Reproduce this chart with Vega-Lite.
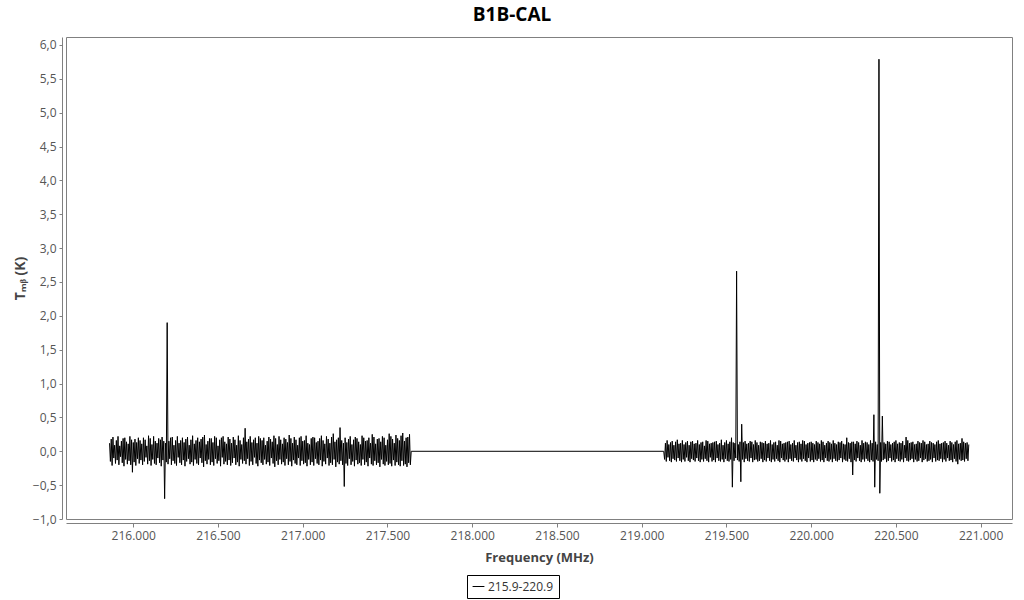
{
  "$schema": "https://vega.github.io/schema/vega-lite/v6.json",
  "width": 946,
  "height": 482,
  "autosize": "none",
  "padding": {"left": 66, "top": 37, "right": 12, "bottom": 81},
  "background": "white",
  "title": {"text": "B1B-CAL", "font": "Open Sans", "fontSize": 19, "fontWeight": "bold", "color": "#000000", "anchor": "middle", "dx": -27, "dy": 19, "offset": 12, "baseline": "bottom"},
  "data": {"values": [
    {"f":215.86,"t":0.12},{"f":215.865,"t":-0.15},{"f":215.87,"t":0.18},{"f":215.875,"t":-0.21},{"f":215.88,"t":0.21},{"f":215.885,"t":-0.1},{"f":215.89,"t":0.09},{"f":215.895,"t":-0.18},{"f":215.9,"t":0.16},{"f":215.905,"t":-0.13},
    {"f":215.91,"t":0.22},{"f":215.915,"t":-0.2},{"f":215.92,"t":0.08},{"f":215.925,"t":-0.08},{"f":215.93,"t":0.15},{"f":215.935,"t":-0.17},{"f":215.94,"t":0.19},{"f":215.945,"t":-0.22},{"f":215.95,"t":0.2},{"f":215.955,"t":-0.12},
    {"f":215.96,"t":0.14},{"f":215.965,"t":-0.19},{"f":215.97,"t":0.11},{"f":215.975,"t":-0.14},{"f":215.98,"t":0.22},{"f":215.985,"t":-0.2},{"f":215.99,"t":0.17},{"f":215.995,"t":-0.31},{"f":216.0,"t":0.13},{"f":216.005,"t":-0.16},
    {"f":216.01,"t":0.18},{"f":216.015,"t":-0.21},{"f":216.02,"t":0.13},{"f":216.025,"t":-0.11},{"f":216.03,"t":0.2},{"f":216.035,"t":-0.18},{"f":216.04,"t":0.16},{"f":216.045,"t":-0.13},{"f":216.05,"t":0.11},{"f":216.055,"t":-0.2},
    {"f":216.06,"t":0.2},{"f":216.065,"t":-0.15},{"f":216.07,"t":0.17},{"f":216.075,"t":-0.09},{"f":216.08,"t":0.08},{"f":216.085,"t":-0.19},{"f":216.09,"t":0.23},{"f":216.095,"t":-0.14},{"f":216.1,"t":0.19},{"f":216.105,"t":-0.21},
    {"f":216.11,"t":0.1},{"f":216.115,"t":-0.12},{"f":216.12,"t":0.22},{"f":216.125,"t":-0.18},{"f":216.13,"t":0.15},{"f":216.135,"t":-0.2},{"f":216.14,"t":0.12},{"f":216.145,"t":-0.1},{"f":216.15,"t":0.19},{"f":216.155,"t":-0.17},
    {"f":216.16,"t":0.17},{"f":216.165,"t":-0.22},{"f":216.17,"t":0.21},{"f":216.175,"t":-0.13},{"f":216.18,"t":0.15},{"f":216.185,"t":-0.7},{"f":216.19,"t":0.12},{"f":216.195,"t":-0.16},{"f":216.2,"t":1.9},{"f":216.205,"t":-0.19},
    {"f":216.21,"t":0.15},{"f":216.215,"t":-0.11},{"f":216.22,"t":0.2},{"f":216.225,"t":-0.2},{"f":216.23,"t":0.21},{"f":216.235,"t":-0.14},{"f":216.24,"t":0.09},{"f":216.245,"t":-0.18},{"f":216.25,"t":0.16},{"f":216.255,"t":-0.21},
    {"f":216.26,"t":0.22},{"f":216.265,"t":-0.09},{"f":216.27,"t":0.12},{"f":216.275,"t":-0.17},{"f":216.28,"t":0.16},{"f":216.285,"t":-0.2},{"f":216.29,"t":0.2},{"f":216.295,"t":-0.13},{"f":216.3,"t":0.13},{"f":216.305,"t":-0.22},
    {"f":216.31,"t":0.18},{"f":216.315,"t":-0.15},{"f":216.32,"t":0.21},{"f":216.325,"t":-0.11},{"f":216.33,"t":0.09},{"f":216.335,"t":-0.19},{"f":216.34,"t":0.17},{"f":216.345,"t":-0.16},{"f":216.35,"t":0.23},{"f":216.355,"t":-0.21},
    {"f":216.36,"t":0.11},{"f":216.365,"t":-0.12},{"f":216.37,"t":0.16},{"f":216.375,"t":-0.18},{"f":216.38,"t":0.2},{"f":216.385,"t":-0.2},{"f":216.39,"t":0.14},{"f":216.395,"t":-0.1},{"f":216.4,"t":0.18},{"f":216.405,"t":-0.17},
    {"f":216.41,"t":0.21},{"f":216.415,"t":-0.23},{"f":216.42,"t":0.24},{"f":216.425,"t":-0.14},{"f":216.43,"t":0.1},{"f":216.435,"t":-0.19},{"f":216.44,"t":0.15},{"f":216.445,"t":-0.12},{"f":216.45,"t":0.19},{"f":216.455,"t":-0.2},
    {"f":216.46,"t":0.19},{"f":216.465,"t":-0.16},{"f":216.47,"t":0.13},{"f":216.475,"t":-0.21},{"f":216.48,"t":0.22},{"f":216.485,"t":-0.11},{"f":216.49,"t":0.2},{"f":216.495,"t":-0.18},{"f":216.5,"t":0.08},{"f":216.505,"t":-0.14},
    {"f":216.51,"t":0.17},{"f":216.515,"t":-0.22},{"f":216.52,"t":0.2},{"f":216.525,"t":-0.09},{"f":216.53,"t":0.22},{"f":216.535,"t":-0.19},{"f":216.54,"t":0.14},{"f":216.545,"t":-0.15},{"f":216.55,"t":0.11},{"f":216.555,"t":-0.2},
    {"f":216.56,"t":0.21},{"f":216.565,"t":-0.13},{"f":216.57,"t":0.18},{"f":216.575,"t":-0.21},{"f":216.58,"t":0.12},{"f":216.585,"t":-0.17},{"f":216.59,"t":0.21},{"f":216.595,"t":-0.1},{"f":216.6,"t":0.17},{"f":216.605,"t":-0.2},
    {"f":216.61,"t":0.09},{"f":216.615,"t":-0.16},{"f":216.62,"t":0.23},{"f":216.625,"t":-0.22},{"f":216.63,"t":0.16},{"f":216.635,"t":-0.12},{"f":216.64,"t":0.1},{"f":216.645,"t":-0.18},{"f":216.65,"t":0.2},{"f":216.655,"t":-0.14},
    {"f":216.66,"t":0.34},{"f":216.665,"t":-0.19},{"f":216.67,"t":0.14},{"f":216.675,"t":-0.11},{"f":216.68,"t":0.18},{"f":216.685,"t":-0.21},{"f":216.69,"t":0.22},{"f":216.695,"t":-0.15},{"f":216.7,"t":0.13},{"f":216.705,"t":-0.2},
    {"f":216.71,"t":0.17},{"f":216.715,"t":-0.09},{"f":216.72,"t":0.2},{"f":216.725,"t":-0.18},{"f":216.73,"t":0.12},{"f":216.735,"t":-0.22},{"f":216.74,"t":0.22},{"f":216.745,"t":-0.13},{"f":216.75,"t":0.19},{"f":216.755,"t":-0.17},
    {"f":216.76,"t":0.16},{"f":216.765,"t":-0.2},{"f":216.77,"t":0.2},{"f":216.775,"t":-0.12},{"f":216.78,"t":0.09},{"f":216.785,"t":-0.19},{"f":216.79,"t":0.15},{"f":216.795,"t":-0.16},{"f":216.8,"t":0.21},{"f":216.805,"t":-0.21},
    {"f":216.81,"t":0.18},{"f":216.815,"t":-0.1},{"f":216.82,"t":0.14},{"f":216.825,"t":-0.18},{"f":216.83,"t":0.23},{"f":216.835,"t":-0.23},{"f":216.84,"t":0.19},{"f":216.845,"t":-0.14},{"f":216.85,"t":0.1},{"f":216.855,"t":-0.2},
    {"f":216.86,"t":0.22},{"f":216.865,"t":-0.12},{"f":216.87,"t":0.17},{"f":216.875,"t":-0.19},{"f":216.88,"t":0.11},{"f":216.885,"t":-0.16},{"f":216.89,"t":0.2},{"f":216.895,"t":-0.21},{"f":216.9,"t":0.18},{"f":216.905,"t":-0.11},
    {"f":216.91,"t":0.13},{"f":216.915,"t":-0.2},{"f":216.92,"t":0.24},{"f":216.925,"t":-0.15},{"f":216.93,"t":0.19},{"f":216.935,"t":-0.22},{"f":216.94,"t":0.12},{"f":216.945,"t":-0.13},{"f":216.95,"t":0.21},{"f":216.955,"t":-0.18},
    {"f":216.96,"t":0.17},{"f":216.965,"t":-0.2},{"f":216.97,"t":0.09},{"f":216.975,"t":-0.1},{"f":216.98,"t":0.2},{"f":216.985,"t":-0.21},{"f":216.99,"t":0.22},{"f":216.995,"t":-0.14},{"f":217.0,"t":0.15},{"f":217.005,"t":-0.19},
    {"f":217.01,"t":0.16},{"f":217.015,"t":-0.17},{"f":217.02,"t":0.23},{"f":217.025,"t":-0.22},{"f":217.03,"t":0.12},{"f":217.035,"t":-0.12},{"f":217.04,"t":0.1},{"f":217.045,"t":-0.2},{"f":217.05,"t":0.19},{"f":217.055,"t":-0.16},
    {"f":217.06,"t":0.21},{"f":217.065,"t":-0.21},{"f":217.07,"t":0.2},{"f":217.075,"t":-0.11},{"f":217.08,"t":0.13},{"f":217.085,"t":-0.18},{"f":217.09,"t":0.15},{"f":217.095,"t":-0.2},{"f":217.1,"t":0.19},{"f":217.105,"t":-0.13},
    {"f":217.11,"t":0.23},{"f":217.115,"t":-0.22},{"f":217.12,"t":0.16},{"f":217.125,"t":-0.15},{"f":217.13,"t":0.11},{"f":217.135,"t":-0.19},{"f":217.14,"t":0.22},{"f":217.145,"t":-0.1},{"f":217.15,"t":0.18},{"f":217.155,"t":-0.21},
    {"f":217.16,"t":0.12},{"f":217.165,"t":-0.17},{"f":217.17,"t":0.21},{"f":217.175,"t":-0.2},{"f":217.18,"t":0.26},{"f":217.185,"t":-0.12},{"f":217.19,"t":0.14},{"f":217.195,"t":-0.23},{"f":217.2,"t":0.17},{"f":217.205,"t":-0.16},
    {"f":217.21,"t":0.2},{"f":217.215,"t":-0.19},{"f":217.22,"t":0.35},{"f":217.225,"t":-0.14},{"f":217.23,"t":0.16},{"f":217.235,"t":-0.2},{"f":217.24,"t":0.12},{"f":217.245,"t":-0.52},{"f":217.25,"t":0.2},{"f":217.255,"t":-0.18},
    {"f":217.26,"t":0.13},{"f":217.265,"t":-0.21},{"f":217.27,"t":0.18},{"f":217.275,"t":-0.11},{"f":217.28,"t":0.22},{"f":217.285,"t":-0.2},{"f":217.29,"t":0.1},{"f":217.295,"t":-0.15},{"f":217.3,"t":0.17},{"f":217.305,"t":-0.22},
    {"f":217.31,"t":0.21},{"f":217.315,"t":-0.13},{"f":217.32,"t":0.19},{"f":217.325,"t":-0.19},{"f":217.33,"t":0.14},{"f":217.335,"t":-0.17},{"f":217.34,"t":0.1},{"f":217.345,"t":-0.21},{"f":217.35,"t":0.23},{"f":217.355,"t":-0.12},
    {"f":217.36,"t":0.2},{"f":217.365,"t":-0.2},{"f":217.37,"t":0.15},{"f":217.375,"t":-0.16},{"f":217.38,"t":0.16},{"f":217.385,"t":-0.22},{"f":217.39,"t":0.2},{"f":217.395,"t":-0.1},{"f":217.4,"t":0.12},{"f":217.405,"t":-0.19},
    {"f":217.41,"t":0.25},{"f":217.415,"t":-0.21},{"f":217.42,"t":0.21},{"f":217.425,"t":-0.14},{"f":217.43,"t":0.11},{"f":217.435,"t":-0.2},{"f":217.44,"t":0.18},{"f":217.445,"t":-0.17},{"f":217.45,"t":0.19},{"f":217.455,"t":-0.23},
    {"f":217.46,"t":0.14},{"f":217.465,"t":-0.12},{"f":217.47,"t":0.22},{"f":217.475,"t":-0.19},{"f":217.48,"t":0.2},{"f":217.485,"t":-0.21},{"f":217.49,"t":0.09},{"f":217.495,"t":-0.15},{"f":217.5,"t":0.17},{"f":217.505,"t":-0.2},
    {"f":217.51,"t":0.26},{"f":217.515,"t":-0.18},{"f":217.52,"t":0.22},{"f":217.525,"t":-0.22},{"f":217.53,"t":0.18},{"f":217.535,"t":-0.13},{"f":217.54,"t":0.12},{"f":217.545,"t":-0.21},{"f":217.55,"t":0.24},{"f":217.555,"t":-0.16},
    {"f":217.56,"t":0.19},{"f":217.565,"t":-0.2},{"f":217.57,"t":0.16},{"f":217.575,"t":-0.22},{"f":217.58,"t":0.23},{"f":217.585,"t":-0.14},{"f":217.59,"t":0.27},{"f":217.595,"t":-0.21},{"f":217.6,"t":0.15},{"f":217.605,"t":-0.19},
    {"f":217.61,"t":0.2},{"f":217.615,"t":-0.23},{"f":217.62,"t":0.21},{"f":217.625,"t":-0.17},{"f":217.63,"t":0.25},{"f":217.635,"t":-0.2},{"f":217.64,"t":0.0},
    {"f":219.13,"t":0.0},{"f":219.135,"t":-0.12},{"f":219.14,"t":0.12},{"f":219.145,"t":-0.15},{"f":219.15,"t":0.16},{"f":219.155,"t":-0.09},{"f":219.16,"t":0.1},{"f":219.165,"t":-0.14},{"f":219.17,"t":0.13},{"f":219.175,"t":-0.16},
    {"f":219.18,"t":0.15},{"f":219.185,"t":-0.11},{"f":219.19,"t":0.09},{"f":219.195,"t":-0.13},{"f":219.2,"t":0.14},{"f":219.205,"t":-0.15},{"f":219.21,"t":0.17},{"f":219.215,"t":-0.1},{"f":219.22,"t":0.11},{"f":219.225,"t":-0.14},
    {"f":219.23,"t":0.12},{"f":219.235,"t":-0.16},{"f":219.24,"t":0.16},{"f":219.245,"t":-0.12},{"f":219.25,"t":0.1},{"f":219.255,"t":-0.15},{"f":219.26,"t":0.13},{"f":219.265,"t":-0.09},{"f":219.27,"t":0.15},{"f":219.275,"t":-0.14},
    {"f":219.28,"t":0.09},{"f":219.285,"t":-0.16},{"f":219.29,"t":0.14},{"f":219.295,"t":-0.11},{"f":219.3,"t":0.15},{"f":219.305,"t":-0.13},{"f":219.31,"t":0.11},{"f":219.315,"t":-0.15},{"f":219.32,"t":0.12},{"f":219.325,"t":-0.1},
    {"f":219.33,"t":0.16},{"f":219.335,"t":-0.14},{"f":219.34,"t":0.1},{"f":219.345,"t":-0.16},{"f":219.35,"t":0.13},{"f":219.355,"t":-0.12},{"f":219.36,"t":0.14},{"f":219.365,"t":-0.15},{"f":219.37,"t":0.08},{"f":219.375,"t":-0.11},
    {"f":219.38,"t":0.16},{"f":219.385,"t":-0.14},{"f":219.39,"t":0.15},{"f":219.395,"t":-0.16},{"f":219.4,"t":0.11},{"f":219.405,"t":-0.09},{"f":219.41,"t":0.12},{"f":219.415,"t":-0.15},{"f":219.42,"t":0.13},{"f":219.425,"t":-0.13},
    {"f":219.43,"t":0.14},{"f":219.435,"t":-0.16},{"f":219.44,"t":0.15},{"f":219.445,"t":-0.1},{"f":219.45,"t":0.1},{"f":219.455,"t":-0.14},{"f":219.46,"t":0.12},{"f":219.465,"t":-0.15},{"f":219.47,"t":0.17},{"f":219.475,"t":-0.12},
    {"f":219.48,"t":0.09},{"f":219.485,"t":-0.16},{"f":219.49,"t":0.13},{"f":219.495,"t":-0.11},{"f":219.5,"t":0.16},{"f":219.505,"t":-0.14},{"f":219.51,"t":0.11},{"f":219.515,"t":-0.15},{"f":219.52,"t":0.14},{"f":219.525,"t":-0.12},
    {"f":219.53,"t":0.2},{"f":219.535,"t":-0.53},{"f":219.54,"t":0.13},{"f":219.545,"t":-0.14},{"f":219.55,"t":0.12},{"f":219.555,"t":-0.1},{"f":219.56,"t":2.66},{"f":219.565,"t":-0.13},{"f":219.57,"t":0.1},{"f":219.575,"t":-0.15},
    {"f":219.58,"t":0.14},{"f":219.585,"t":-0.45},{"f":219.59,"t":0.4},{"f":219.595,"t":-0.12},{"f":219.6,"t":0.13},{"f":219.605,"t":-0.16},{"f":219.61,"t":0.15},{"f":219.615,"t":-0.11},{"f":219.62,"t":0.11},{"f":219.625,"t":-0.14},
    {"f":219.63,"t":0.12},{"f":219.635,"t":-0.15},{"f":219.64,"t":0.15},{"f":219.645,"t":-0.1},{"f":219.65,"t":0.14},{"f":219.655,"t":-0.16},{"f":219.66,"t":0.1},{"f":219.665,"t":-0.13},{"f":219.67,"t":0.16},{"f":219.675,"t":-0.12},
    {"f":219.68,"t":0.13},{"f":219.685,"t":-0.15},{"f":219.69,"t":0.09},{"f":219.695,"t":-0.14},{"f":219.7,"t":0.14},{"f":219.705,"t":-0.11},{"f":219.71,"t":0.13},{"f":219.715,"t":-0.16},{"f":219.72,"t":0.12},{"f":219.725,"t":-0.13},
    {"f":219.73,"t":0.15},{"f":219.735,"t":-0.15},{"f":219.74,"t":0.11},{"f":219.745,"t":-0.1},{"f":219.75,"t":0.12},{"f":219.755,"t":-0.14},{"f":219.76,"t":0.16},{"f":219.765,"t":-0.16},{"f":219.77,"t":0.1},{"f":219.775,"t":-0.12},
    {"f":219.78,"t":0.13},{"f":219.785,"t":-0.15},{"f":219.79,"t":0.14},{"f":219.795,"t":-0.11},{"f":219.8,"t":0.09},{"f":219.805,"t":-0.14},{"f":219.81,"t":0.16},{"f":219.815,"t":-0.16},{"f":219.82,"t":0.15},{"f":219.825,"t":-0.1},
    {"f":219.83,"t":0.11},{"f":219.835,"t":-0.13},{"f":219.84,"t":0.12},{"f":219.845,"t":-0.15},{"f":219.85,"t":0.13},{"f":219.855,"t":-0.12},{"f":219.86,"t":0.14},{"f":219.865,"t":-0.16},{"f":219.87,"t":0.15},{"f":219.875,"t":-0.11},
    {"f":219.88,"t":0.1},{"f":219.885,"t":-0.14},{"f":219.89,"t":0.12},{"f":219.895,"t":-0.15},{"f":219.9,"t":0.16},{"f":219.905,"t":-0.1},{"f":219.91,"t":0.09},{"f":219.915,"t":-0.13},{"f":219.92,"t":0.13},{"f":219.925,"t":-0.16},
    {"f":219.93,"t":0.14},{"f":219.935,"t":-0.12},{"f":219.94,"t":0.11},{"f":219.945,"t":-0.15},{"f":219.95,"t":0.16},{"f":219.955,"t":-0.11},{"f":219.96,"t":0.15},{"f":219.965,"t":-0.14},{"f":219.97,"t":0.1},{"f":219.975,"t":-0.16},
    {"f":219.98,"t":0.12},{"f":219.985,"t":-0.1},{"f":219.99,"t":0.13},{"f":219.995,"t":-0.15},{"f":220.0,"t":0.14},{"f":220.005,"t":-0.13},{"f":220.01,"t":0.12},{"f":220.015,"t":-0.16},{"f":220.02,"t":0.1},{"f":220.025,"t":-0.12},
    {"f":220.03,"t":0.15},{"f":220.035,"t":-0.14},{"f":220.04,"t":0.13},{"f":220.045,"t":-0.11},{"f":220.05,"t":0.11},{"f":220.055,"t":-0.15},{"f":220.06,"t":0.16},{"f":220.065,"t":-0.13},{"f":220.07,"t":0.14},{"f":220.075,"t":-0.16},
    {"f":220.08,"t":0.09},{"f":220.085,"t":-0.1},{"f":220.09,"t":0.12},{"f":220.095,"t":-0.14},{"f":220.1,"t":0.15},{"f":220.105,"t":-0.15},{"f":220.11,"t":0.13},{"f":220.115,"t":-0.12},{"f":220.12,"t":0.11},{"f":220.125,"t":-0.16},
    {"f":220.13,"t":0.16},{"f":220.135,"t":-0.11},{"f":220.14,"t":0.12},{"f":220.145,"t":-0.14},{"f":220.15,"t":0.1},{"f":220.155,"t":-0.15},{"f":220.16,"t":0.14},{"f":220.165,"t":-0.13},{"f":220.17,"t":0.13},{"f":220.175,"t":-0.1},
    {"f":220.18,"t":0.15},{"f":220.185,"t":-0.16},{"f":220.19,"t":0.11},{"f":220.195,"t":-0.12},{"f":220.2,"t":0.1},{"f":220.205,"t":-0.14},{"f":220.21,"t":0.2},{"f":220.215,"t":-0.15},{"f":220.22,"t":0.13},{"f":220.225,"t":-0.11},
    {"f":220.23,"t":0.12},{"f":220.235,"t":-0.16},{"f":220.24,"t":0.14},{"f":220.245,"t":-0.35},{"f":220.25,"t":0.14},{"f":220.255,"t":-0.13},{"f":220.26,"t":0.11},{"f":220.265,"t":-0.15},{"f":220.27,"t":0.15},{"f":220.275,"t":-0.1},
    {"f":220.28,"t":0.13},{"f":220.285,"t":-0.14},{"f":220.29,"t":0.09},{"f":220.295,"t":-0.16},{"f":220.3,"t":0.16},{"f":220.305,"t":-0.12},{"f":220.31,"t":0.12},{"f":220.315,"t":-0.15},{"f":220.32,"t":0.14},{"f":220.325,"t":-0.11},
    {"f":220.33,"t":0.13},{"f":220.335,"t":-0.14},{"f":220.34,"t":0.1},{"f":220.345,"t":-0.16},{"f":220.35,"t":0.16},{"f":220.355,"t":-0.13},{"f":220.36,"t":0.12},{"f":220.365,"t":-0.15},{"f":220.37,"t":0.54},{"f":220.375,"t":-0.53},
    {"f":220.38,"t":0.14},{"f":220.385,"t":-0.12},{"f":220.39,"t":0.1},{"f":220.395,"t":-0.14},{"f":220.4,"t":5.79},{"f":220.405,"t":-0.62},{"f":220.41,"t":0.13},{"f":220.415,"t":-0.15},{"f":220.42,"t":0.52},{"f":220.425,"t":-0.13},
    {"f":220.43,"t":0.13},{"f":220.435,"t":-0.11},{"f":220.44,"t":0.11},{"f":220.445,"t":-0.16},{"f":220.45,"t":0.15},{"f":220.455,"t":-0.14},{"f":220.46,"t":0.14},{"f":220.465,"t":-0.1},{"f":220.47,"t":0.1},{"f":220.475,"t":-0.15},
    {"f":220.48,"t":0.12},{"f":220.485,"t":-0.13},{"f":220.49,"t":0.14},{"f":220.495,"t":-0.16},{"f":220.5,"t":0.16},{"f":220.505,"t":-0.11},{"f":220.51,"t":0.11},{"f":220.515,"t":-0.14},{"f":220.52,"t":0.13},{"f":220.525,"t":-0.15},
    {"f":220.53,"t":0.12},{"f":220.535,"t":-0.12},{"f":220.54,"t":0.15},{"f":220.545,"t":-0.16},{"f":220.55,"t":0.09},{"f":220.555,"t":-0.1},{"f":220.56,"t":0.21},{"f":220.565,"t":-0.14},{"f":220.57,"t":0.16},{"f":220.575,"t":-0.15},
    {"f":220.58,"t":0.12},{"f":220.585,"t":-0.13},{"f":220.59,"t":0.13},{"f":220.595,"t":-0.11},{"f":220.6,"t":0.14},{"f":220.605,"t":-0.16},{"f":220.61,"t":0.1},{"f":220.615,"t":-0.12},{"f":220.62,"t":0.11},{"f":220.625,"t":-0.15},
    {"f":220.63,"t":0.15},{"f":220.635,"t":-0.14},{"f":220.64,"t":0.13},{"f":220.645,"t":-0.1},{"f":220.65,"t":0.12},{"f":220.655,"t":-0.16},{"f":220.66,"t":0.16},{"f":220.665,"t":-0.13},{"f":220.67,"t":0.14},{"f":220.675,"t":-0.11},
    {"f":220.68,"t":0.1},{"f":220.685,"t":-0.15},{"f":220.69,"t":0.11},{"f":220.695,"t":-0.14},{"f":220.7,"t":0.15},{"f":220.705,"t":-0.12},{"f":220.71,"t":0.13},{"f":220.715,"t":-0.16},{"f":220.72,"t":0.12},{"f":220.725,"t":-0.1},
    {"f":220.73,"t":0.1},{"f":220.735,"t":-0.15},{"f":220.74,"t":0.14},{"f":220.745,"t":-0.13},{"f":220.75,"t":0.16},{"f":220.755,"t":-0.14},{"f":220.76,"t":0.11},{"f":220.765,"t":-0.11},{"f":220.77,"t":0.12},{"f":220.775,"t":-0.16},
    {"f":220.78,"t":0.13},{"f":220.785,"t":-0.12},{"f":220.79,"t":0.15},{"f":220.795,"t":-0.15},{"f":220.8,"t":0.12},{"f":220.805,"t":-0.1},{"f":220.81,"t":0.09},{"f":220.815,"t":-0.14},{"f":220.82,"t":0.15},{"f":220.825,"t":-0.13},
    {"f":220.83,"t":0.13},{"f":220.835,"t":-0.16},{"f":220.84,"t":0.1},{"f":220.845,"t":-0.11},{"f":220.85,"t":0.14},{"f":220.855,"t":-0.15},{"f":220.86,"t":0.16},{"f":220.865,"t":-0.19},{"f":220.87,"t":0.11},{"f":220.875,"t":-0.12},
    {"f":220.88,"t":0.12},{"f":220.885,"t":-0.14},{"f":220.89,"t":0.19},{"f":220.895,"t":-0.13},{"f":220.9,"t":0.14},{"f":220.905,"t":-0.15},{"f":220.91,"t":0.12},{"f":220.915,"t":-0.11},{"f":220.92,"t":0.13},{"f":220.925,"t":-0.14},
    {"f":220.93,"t":0.1}
  ]},
  "mark": {"type": "line", "strokeWidth": 1, "interpolate": "linear", "clip": true},
  "encoding": {
    "x": {
      "field": "f", "type": "quantitative",
      "scale": {"domain": [215.603, 221.185], "nice": false, "zero": false},
      "axis": {
        "title": "Frequency (MHz)",
        "values": [216, 216.5, 217, 217.5, 218, 218.5, 219, 219.5, 220, 220.5, 221],
        "format": ".3f",
        "offset": 4, "grid": false,
        "domainColor": "#808080", "tickColor": "#808080", "tickSize": 4,
        "labelFont": "Open Sans", "labelFontSize": 12, "labelColor": "#555555", "labelPadding": 3,
        "titleFont": "Open Sans", "titleFontSize": 13, "titleFontWeight": "bold", "titleColor": "#444444", "titlePadding": 10
      }
    },
    "y": {
      "field": "t", "type": "quantitative",
      "scale": {"domain": [-1, 6.118], "nice": false, "zero": false},
      "axis": {
        "title": "Tₘᵦ (K)",
        "values": [-1, -0.5, 0, 0.5, 1, 1.5, 2, 2.5, 3, 3.5, 4, 4.5, 5, 5.5, 6],
        "labelExpr": "replace(format(datum.value, '.1f'), '.', ',')",
        "offset": 4, "grid": false,
        "domainColor": "#808080", "tickColor": "#808080", "tickSize": 3,
        "labelFont": "Open Sans", "labelFontSize": 12, "labelColor": "#555555", "labelPadding": 3,
        "titleFont": "Open Sans", "titleFontSize": 14, "titleFontWeight": "bold", "titleColor": "#444444", "titlePadding": 5
      }
    },
    "color": {
      "datum": "215.9-220.9", "type": "nominal",
      "scale": {"range": ["#000000"]},
      "legend": {
        "title": null, "orient": "none", "legendX": 401, "legendY": 538,
        "strokeColor": "#000000", "padding": 5,
        "symbolType": "stroke", "symbolStrokeColor": "#666666", "symbolStrokeWidth": 1, "symbolSize": 140,
        "labelFont": "Open Sans", "labelFontSize": 12, "labelColor": "#333333", "labelOffset": 3
      }
    }
  },
  "config": {
    "view": {"stroke": "#808080", "strokeWidth": 1}
  }
}
